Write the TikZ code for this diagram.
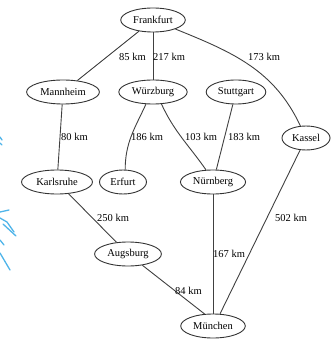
\documentclass[tikz,border=0pt]{standalone}
\usepackage{fontspec}
\setmainfont{Liberation Serif}
\usetikzlibrary{shapes.geometric}
\begin{document}
\begin{tikzpicture}[x=1pt,y=-1pt,
  city/.style={draw=black!80, line width=0.9pt, ellipse, minimum height=24pt, inner xsep=3pt, inner ysep=1pt, font=\fontsize{10.5}{12}\selectfont},
  road/.style={draw=black!75, line width=0.9pt},
  dist/.style={anchor=west, inner sep=0pt, font=\fontsize{10.5}{12}\selectfont},
  splash/.style={draw=cyan!85!blue!70, line width=1.3pt, line cap=round}]
\useasboundingbox (0,0) rectangle (331,339);
% cities
\node[city, minimum width=61pt] (fra) at (153,20) {Frankfurt};
\node[city, minimum width=65pt] (man) at (63,92) {Mannheim};
\node[city, minimum width=63pt] (wue) at (153,92) {Würzburg};
\node[city, minimum width=57pt] (stu) at (236,92) {Stuttgart};
\node[city, minimum width=47pt] (kas) at (306,138) {Kassel};
\node[city, minimum width=71pt] (kar) at (57,182) {Karlsruhe};
\node[city, minimum width=47pt] (erf) at (123,182) {Erfurt};
\node[city, minimum width=62pt] (nue) at (213,182) {Nürnberg};
\node[city, minimum width=63pt] (aug) at (128,254) {Augsburg};
\node[city, minimum width=62pt] (mue) at (213,326) {München};
% roads
\draw[road] (fra) -- (man);
\draw[road] (fra) -- (wue);
\draw[road] (fra) to[out=-22, in=115] (kas);
\draw[road] (man) -- (kar);
\draw[road] (wue.-120) to[out=-115, in=90] (erf.80);
\draw[road] (wue.-55) to[out=-65, in=125] (nue.120);
\draw[road] (stu) -- (nue.75);
\draw[road] (kas) -- (mue.60);
\draw[road] (kar) -- (aug);
\draw[road] (nue) -- (mue);
\draw[road] (aug) -- (mue.125);
% distances
\node[dist] (d1) at (119,57) {85 km};
\node[dist] (d2) at (153,57) {217 km};
\node[dist] (d3) at (248,57) {173 km};
\node[dist] (d4) at (61,137) {80 km};
\node[dist] (d5) at (131,137) {186 km};
\node[dist] (d6) at (185,137) {103 km};
\node[dist] (d7) at (228,137) {183 km};
\node[dist] (d8) at (97,218) {250 km};
\node[dist] (d9) at (275,218) {502 km};
\node[dist] (d10) at (213,254) {167 km};
\node[dist] (d11) at (175,291) {84 km};
% cyan ink marks along the left edge
\draw[splash] (0,137) -- (2,140);
\draw[splash] (0,143) -- (2,145);
\draw[splash] (0,212) -- (9,210);
\draw[splash] (0,218) -- (7,222) -- (14,232);
\draw[splash] (3,224) -- (16,236);
\draw[splash] (0,240) -- (4,245);
\draw[splash] (0,253) -- (10,270);
\end{tikzpicture}
\end{document}
